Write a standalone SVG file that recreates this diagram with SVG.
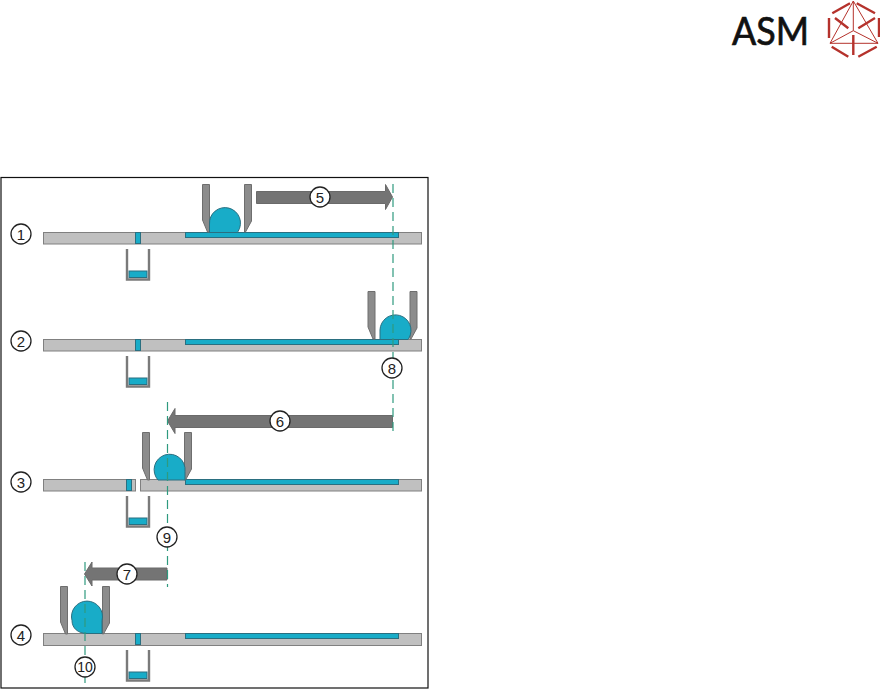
<svg xmlns="http://www.w3.org/2000/svg" width="880" height="696" viewBox="0 0 880 696">
<style>
.bar{fill:#c0c0c0;stroke:#808080;stroke-width:1}
.ink{fill:#18acc8;stroke:#2a6f80;stroke-width:1}
.sq{fill:#8c8c8c;stroke:#6e6e6e;stroke-width:1}
.cup{fill:#fff;stroke:#7a7a7a;stroke-width:2.4}
.arrow{fill:#747474;stroke:#6a6a6a;stroke-width:1}
.dash{stroke:#2f9a7f;stroke-width:1.2;stroke-dasharray:9 5;fill:none}
.lab circle{fill:#fff;stroke:#222;stroke-width:1.3}
.lab text{font:15px "Liberation Sans",Arial,sans-serif;fill:#222;text-anchor:middle}
.logo{fill:none;stroke:#b5322c;stroke-width:2.4}
.logo2{fill:none;stroke:#b5322c;stroke-width:1}
</style>
<defs>
<g id="cup"><path class="cup" d="M127 249V279.500H149V249"/><rect class="ink" x="129" y="271" width="18" height="6.500" stroke="none"/></g>
<g id="squeegee">
<path class="sq" d="M202.500 184.500H209.500V232H207.500L202.500 220Z"/>
<path class="sq" d="M244.500 184.500H251.500V221L245.500 232H244.500Z"/>
</g>
<g id="via"><rect class="ink" x="135.500" y="232.500" width="5" height="11"/></g>
</defs>
<rect x="1" y="177.500" width="427" height="510.500" fill="#fff" stroke="#111" stroke-width="1.2"/>
<g id="step1">
<rect class="bar" x="43.500" y="232.500" width="378" height="11.500"/>
<use href="#via"/>
<rect class="ink" x="185.500" y="232.500" width="213" height="5"/>
<use href="#cup"/>
<use href="#squeegee"/>
<path class="ink" d="M209.500 232.500V224A15.500 15.500 0 1 1 238 231.500L237 232.500Z"/>
</g>
<g id="step2">
<rect class="bar" x="43.500" y="339.500" width="378" height="11.500"/>
<use href="#via" y="107"/>
<rect class="ink" x="185.500" y="339.500" width="213" height="5"/>
<use href="#cup" y="107"/>
<use href="#squeegee" x="165.500" y="107"/>
<path class="ink" d="M380 339.500V330A15.500 15.500 0 1 1 409 338L408 339.500Z"/>
</g>
<g id="step3">
<rect class="bar" x="43.500" y="479.500" width="92" height="11.500"/>
<rect class="bar" x="140.500" y="479.500" width="281" height="11.500"/>
<use href="#via" x="-9" y="247"/>
<rect class="ink" x="185.500" y="479.500" width="213" height="5"/>
<use href="#cup" y="247"/>
<use href="#squeegee" x="-60" y="248"/>
<path class="ink" d="M158 480A15.500 15.500 0 1 1 185 471.500V480Z"/>
</g>
<g id="step4">
<rect class="bar" x="43.500" y="633.500" width="378" height="12"/>
<use href="#via" y="401"/>
<rect class="ink" x="185.500" y="633.500" width="213" height="5"/>
<use href="#cup" y="401"/>
<use href="#squeegee" x="-142" y="402"/>
<path class="ink" d="M102 633.500H87C78 633.500 72 628 72 620.500A15.500 15.500 0 1 1 102 620.500Z"/>
</g>
<g id="arrows">
<path class="arrow" d="M256.500 191.500H385.500V184.500L392.500 197L385.500 209.500V203.500H256.500Z"/>
<path class="arrow" d="M392.500 415.500H175V408.500L167.500 421L175 433.500V427.500H392.500Z"/>
<path class="arrow" d="M167 568H92V562L84.500 574L92 586V580H167Z"/>
</g>
<g id="connectors">
<path class="dash" d="M393 184V432"/>
<path class="dash" d="M167.500 402V587"/>
<path class="dash" d="M85 562V688"/>
</g>
<g id="labels" class="lab">
<g id="label1"><circle cx="21" cy="234" r="10"/><text x="21" y="239.500">1</text></g>
<g id="label2"><circle cx="21" cy="341" r="10"/><text x="21" y="346.500">2</text></g>
<g id="label3"><circle cx="21" cy="482" r="10"/><text x="21" y="487.500">3</text></g>
<g id="label4"><circle cx="21" cy="635" r="10"/><text x="21" y="640.500">4</text></g>
<g id="label5"><circle cx="320" cy="197" r="10"/><text x="320" y="202.500">5</text></g>
<g id="label6"><circle cx="280" cy="421" r="10"/><text x="280" y="426.500">6</text></g>
<g id="label7"><circle cx="127" cy="574" r="10"/><text x="127" y="579.500">7</text></g>
<g id="label8"><circle cx="392" cy="368" r="10"/><text x="392" y="373.500">8</text></g>
<g id="label9"><circle cx="167" cy="537" r="10"/><text x="167" y="542.500">9</text></g>
<g id="label10"><circle cx="85" cy="667" r="10"/><text x="85" y="672" style="font-size:14px">10</text></g>
</g>
<g id="logo">
<text x="732" y="45" font-family="Lato,'Liberation Sans',sans-serif" font-size="38" fill="#111" stroke="#111" stroke-width="0.7" textLength="77" lengthAdjust="spacingAndGlyphs">ASM</text>
<path class="logo2" d="M853.300 1L830 43.300H878ZM830 43.300L853.300 30.700L878 43.300M853.300 1V30.700"/>
<path class="logo" d="M832.300 13.300L850 3.300M856.700 3.300L875 13.300M829 18V38M879 18V37M831.700 46.700L848.300 56.700M858.300 56.700L876.700 46.700M835 18L848.300 28.300M858.300 28.300L875 18M853.300 35V55"/>
</g>
</svg>
